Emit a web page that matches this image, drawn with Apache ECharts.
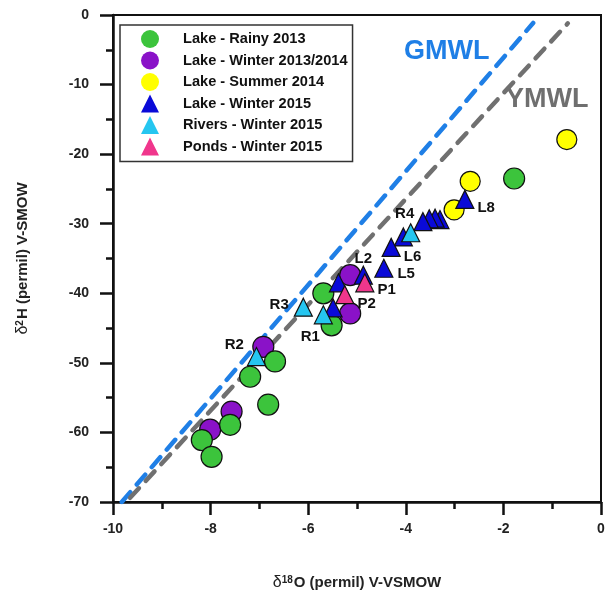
<!DOCTYPE html>
<html>
<head>
<meta charset="utf-8">
<script src="https://cdn.jsdelivr.net/npm/echarts@6/dist/echarts.min.js"></script>
<style>
  html, body { margin: 0; padding: 0; background: #fff; }
  #chart { width: 608px; height: 603px; }
</style>
</head>
<body>
<div id="chart"></div>
<script>
// isotope data (d18O, d2H)
const rainyX = [-1.78, -5.69, -5.52, -6.68, -7.19, -6.82, -7.60, -8.18, -7.98];
const rainyY = [-23.5, -40.0, -44.6, -49.8, -52.0, -56.0, -58.9, -61.1, -63.5];
const winter1314X = [-5.14, -5.14, -6.92, -7.57, -8.01];
const winter1314Y = [-37.4, -42.9, -47.7, -57.0, -59.6];
const summer14X = [-0.70, -2.68, -3.01];
const summer14Y = [-17.9, -23.9, -28.0];
const lake15X = [-2.79, -3.30, -3.40, -3.52, -3.65, -4.05, -4.30, -4.45, -4.87, -5.38, -5.49];
const lake15Y = [-26.5, -29.4, -29.2, -29.3, -29.7, -31.9, -33.4, -36.4, -37.4, -38.5, -42.1];
const lake15Names = ['L8', '', '', '', '', '', 'L6', 'L5', 'L2', '', ''];
const riversX = [-3.90, -6.10, -5.69, -7.06];
const riversY = [-31.3, -42.0, -43.1, -49.1];
const riversNames = ['R4', 'R3', 'R1', 'R2'];
const pondsX = [-4.84, -5.25];
const pondsY = [-38.5, -40.2];
const pondsNames = ['P1', 'P2'];
// meteoric water lines (end points)
const gmwlX = [-9.82, -1.39];
const gmwlY = [-70, -1.15];
const ymwlX = [-9.65, -0.68];
const ymwlY = [-69.4, -1.2];

const FONT = '"Liberation Sans", Arial, sans-serif';

// where each sample label sits relative to its marker
const labelPlace = {
  L8: { position: 'right', offset: [-2, 8] },
  L6: { position: 'right', offset: [-2, 9] },
  L5: { position: 'right', offset: [-1, 6] },
  L2: { position: 'top', offset: [0, 6] },
  R4: { position: 'top', offset: [-6, 3] },
  R3: { position: 'left', offset: [0, -2] },
  R1: { position: 'bottom', offset: [-13, 0] },
  R2: { position: 'left', offset: [2, -12] },
  P1: { position: 'right', offset: [-2, 7] },
  P2: { position: 'right', offset: [-2, 9] }
};

function pts(xs, ys, names) {
  return xs.map(function (x, i) {
    const item = { value: [x, ys[i]] };
    const n = names ? names[i] : '';
    if (n) {
      item.name = n;
      item.label = Object.assign({
        show: true,
        formatter: n,
        color: '#111',
        fontSize: 15,
        fontWeight: 'bold',
        fontFamily: FONT
      }, labelPlace[n]);
    }
    return item;
  });
}

function scatter(name, xs, ys, names, symbol, size, color) {
  return {
    name: name,
    type: 'scatter',
    symbol: symbol,
    symbolSize: size,
    itemStyle: { color: color, borderColor: '#111', borderWidth: 1.2, opacity: 1 },
    data: pts(xs, ys, names),
    z: 3
  };
}

function line(xs, ys, color) {
  return {
    type: 'line',
    data: xs.map(function (x, i) { return [x, ys[i]]; }),
    symbol: 'none',
    silent: true,
    lineStyle: { color: color, width: 4.5, type: [13, 10], cap: 'round' },
    z: 2
  };
}

const myChart = echarts.init(document.getElementById('chart'));
const axisText = { color: '#222', fontSize: 14, fontWeight: 'bold', fontFamily: FONT };
const nameRich = {
  d: { fontSize: 16, fontFamily: FONT, color: '#222' },
  s: { fontSize: 10, fontWeight: 'bold', fontFamily: FONT, color: '#222', verticalAlign: 'top', padding: [0, 1, 6, 0] },
  t: { fontSize: 15, fontWeight: 'bold', fontFamily: FONT, color: '#222' }
};

const option = {
  animation: false,
  backgroundColor: '#fff',
  grid: {
    left: 113, right: 7, top: 15, bottom: 101,
    show: true, borderColor: '#111', borderWidth: 2
  },
  legend: {
    orient: 'vertical',
    left: 120,
    top: 25,
    padding: [5, 5, 6, 21],
    itemGap: 3.5,
    itemWidth: 18,
    itemHeight: 18,
    borderColor: '#333',
    borderWidth: 1.5,
    itemStyle: { borderWidth: 0 },
    textStyle: { color: '#111', fontSize: 14.6, fontWeight: 'bold', fontFamily: FONT, padding: [0, 0, 0, 19] },
    data: ['Lake - Rainy 2013', 'Lake - Winter 2013/2014', 'Lake - Summer 2014',
      'Lake - Winter 2015', 'Rivers - Winter 2015', 'Ponds - Winter 2015']
  },
  xAxis: {
    type: 'value',
    min: -10, max: 0, interval: 2,
    name: '{d|δ}{s|18}{t|O (permil) V-VSMOW}',
    nameLocation: 'middle',
    nameGap: 73,
    nameTextStyle: { rich: nameRich },
    axisLine: { onZero: false, lineStyle: { color: '#111', width: 2.5 } },
    axisTick: { length: 13, lineStyle: { color: '#111', width: 2.5 } },
    minorTick: { show: true, splitNumber: 2, length: 7, lineStyle: { color: '#111', width: 2.5 } },
    axisLabel: Object.assign({ margin: 20 }, axisText),
    splitLine: { show: false }
  },
  yAxis: {
    type: 'value',
    min: -70, max: 0, interval: 10,
    name: '{d|δ}{s|2}{t|H (permil) V-SMOW}',
    nameLocation: 'middle',
    nameGap: 82,
    nameTextStyle: { rich: nameRich },
    axisLine: { onZero: false, lineStyle: { color: '#111', width: 2.5 } },
    axisTick: { length: 13, lineStyle: { color: '#111', width: 2.5 } },
    minorTick: { show: true, splitNumber: 2, length: 7, lineStyle: { color: '#111', width: 2.5 } },
    axisLabel: Object.assign({ margin: 24 }, axisText),
    splitLine: { show: false }
  },
  graphic: [
    { type: 'text', left: 404, top: 38, style: { text: 'GMWL', fill: '#1f7fe6', font: 'bold 27px ' + FONT } },
    { type: 'text', left: 506, top: 86, style: { text: 'YMWL', fill: '#6f6f6f', font: 'bold 27px ' + FONT } }
  ],
  series: [
    line(gmwlX, gmwlY, '#1f7fe6'),
    line(ymwlX, ymwlY, '#707070'),
    scatter('Lake - Winter 2013/2014', winter1314X, winter1314Y, null, 'circle', 21, '#8a12c8'),
    scatter('Lake - Rainy 2013', rainyX, rainyY, null, 'circle', 21, '#3cc43c'),
    scatter('Lake - Summer 2014', summer14X, summer14Y, null, 'circle', 20, '#ffff00'),
    scatter('Lake - Winter 2015', lake15X, lake15Y, lake15Names, 'triangle', 18, '#0a0ad8'),
    scatter('Rivers - Winter 2015', riversX, riversY, riversNames, 'triangle', 18, '#25c6f0'),
    scatter('Ponds - Winter 2015', pondsX, pondsY, pondsNames, 'triangle', 18, '#f0368c')
  ]
};

myChart.setOption(option);
</script>
</body>
</html>
